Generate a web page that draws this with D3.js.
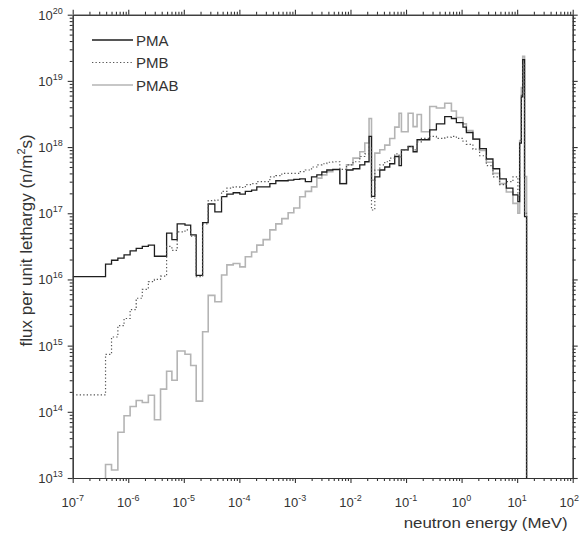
<!DOCTYPE html>
<html>
<head>
<meta charset="utf-8">
<script src="https://cdn.jsdelivr.net/npm/d3@7"></script>
<style>
  body { margin: 0; background: #fff; }
  svg text { font-family: "Liberation Sans", Arial, sans-serif; fill: #333; }
</style>
</head>
<body>
<div id="chart"></div>
<script>
// group boundaries (MeV), one more than the number of groups
var energyEdges = [1e-7, 3.9e-7, 5.0e-7, 6.5e-7, 8.4e-7, 1.08e-6, 1.39e-6, 1.79e-6, 2.3e-6, 2.96e-6,
    3.81e-6, 4.9e-6, 6.1e-6, 7.6e-6, 1.05e-5, 1.33e-5, 1.67e-5, 2.18e-5, 2.75e-5, 3.62e-5,
    4.78e-5, 5.96e-5, 7.74e-5, 1.02e-4, 1.28e-4, 1.66e-4, 2.06e-4, 2.68e-4, 3.54e-4, 4.53e-4,
    5.81e-4, 7.55e-4, 9.55e-4, 1.22e-3, 1.54e-3, 1.99e-3, 2.48e-3, 3.05e-3, 3.75e-3, 4.81e-3,
    6.43e-3, 8.48e-3, 1.11e-2, 1.47e-2, 1.81e-2, 2.16e-2, 2.39e-2, 2.74e-2, 3.37e-2, 4.14e-2,
    5.09e-2, 6.26e-2, 7.48e-2, 8.26e-2, 0.109, 0.134, 0.158, 0.189, 0.267, 0.352,
    0.497, 0.656, 0.806, 1.06, 1.22, 1.60, 2.11, 2.79, 3.67, 4.84,
    6.39, 8.40, 10.3, 11.1, 11.9, 12.6, 13.6, 14.8, 100];

// flux per unit lethargy in each group
var pma = [1.1e16, 1.7e16, 1.95e16, 2.1e16, 2.35e16, 2.7e16, 2.95e16, 3.16e16, 3.3e16, 2.24e16,
    2.24e16, 5.0e16, 4.0e16, 6.9e16, 6.6e16, 4.7e16, 1.15e16, 7.2e16, 1.38e17, 1.05e17,
    1.78e17, 1.95e17, 2.04e17, 1.95e17, 2.14e17, 2.24e17, 2.5e17, 2.5e17, 2.8e17, 3.1e17,
    3.1e17, 3.16e17, 3.24e17, 3.3e17, 3.0e17, 3.55e17, 3.8e17, 4.2e17, 4.5e17, 4.6e17,
    2.8e17, 4.5e17, 4.7e17, 5.4e17, 6.0e17, 1.45e18, 1.8e17, 3.55e17, 4.5e17, 5.0e17,
    5.6e17, 7.2e17, 5.25e17, 9.1e17, 1.02e18, 8.5e17, 1.29e18, 1.29e18, 1.82e18, 2.24e18,
    2.88e18, 2.7e18, 2.34e18, 2.0e18, 1.66e18, 1.32e18, 9.5e17, 6.6e17, 4.7e17, 3.3e17,
    2.4e17, 1.9e17, 1.5e17, 1.15e18, 5.75e18, 2.1e19, 8.9e16, 1e10];

var pmb = [1.8e14, 7.4e14, 1.35e15, 2.0e15, 2.57e15, 3.5e15, 5.2e15, 7.1e15, 9.3e15, 1.0e16,
    1.12e16, 3.16e16, 2.75e16, 5.25e16, 5.6e16, 4.5e16, 1.1e16, 6.9e16, 1.55e17, 1.58e17,
    2.14e17, 2.4e17, 2.5e17, 2.45e17, 2.7e17, 2.8e17, 3.0e17, 3.0e17, 3.55e17, 3.7e17,
    4.0e17, 4.0e17, 4.0e17, 4.25e17, 4.5e17, 5.0e17, 5.4e17, 5.6e17, 5.9e17, 6.0e17,
    4.6e17, 5.4e17, 6.0e17, 7.2e17, 7.9e17, 1.0e18, 1.12e17, 4.5e17, 5.4e17, 6.0e17,
    6.8e17, 7.9e17, 7.1e17, 9.1e17, 1.02e18, 9.1e17, 1.2e18, 1.35e18, 1.45e18, 1.35e18,
    1.41e18, 1.45e18, 1.35e18, 1.23e18, 1.1e18, 9.3e17, 7.4e17, 5.25e17, 3.55e17, 2.7e17,
    3.0e17, 3.55e17, 1.78e17, 1.26e18, 6.3e18, 1.8e19, 1.0e17, 1e10];

var pmab = [1e10, 1.6e13, 1.32e13, 4.9e13, 8.7e13, 1.2e14, 1.48e14, 1.38e14, 1.78e14, 7.6e13,
    2.2e14, 4.1e14, 3.0e14, 8.3e14, 7.4e14, 5.0e14, 1.45e14, 1.62e15, 5.75e15, 4.6e15,
    1.17e16, 1.66e16, 1.74e16, 1.55e16, 2.2e16, 2.6e16, 3.3e16, 4.0e16, 5.6e16, 6.9e16,
    8.3e16, 1.02e17, 1.2e17, 1.78e17, 2.14e17, 2.5e17, 3.4e17, 3.8e17, 4.25e17, 4.5e17,
    2.8e17, 5.4e17, 6.8e17, 8.5e17, 1.15e18, 2.7e18, 3.16e17, 8.1e17, 9.1e17, 1.07e18,
    1.35e18, 2.0e18, 3.24e18, 1.7e18, 3.24e18, 2.04e18, 3.1e18, 1.7e18, 4.1e18, 3.9e18,
    4.6e18, 3.5e18, 2.8e18, 2.24e18, 1.78e18, 1.32e18, 8.9e17, 5.9e17, 4.0e17, 2.8e17,
    2.1e17, 1.41e17, 1.0e17, 1.26e18, 7.9e18, 2.35e19, 3.6e17, 1e10];

var seriesNames = ['PMA', 'PMB', 'PMAB'];

var xDecades = [-7, -6, -5, -4, -3, -2, -1, 0, 1, 2];
var yDecades = [13, 14, 15, 16, 17, 18, 19, 20];

var W = 580, H = 536;
var plot = { left: 72.7, right: 572.7, top: 14.7, bottom: 478 };

var svg = d3.select('#chart').append('svg')
    .attr('width', W).attr('height', H);

var x = d3.scaleLog().domain([1e-7, 1e2]).range([plot.left, plot.right]);
var y = d3.scaleLog().domain([1e13, 1e20]).range([plot.bottom, plot.top]);

var styles = {
    PMA:  { stroke: '#1e1e1e', width: 1.3, dash: null },
    PMB:  { stroke: '#555', width: 1.2, dash: '1.3,2.2' },
    PMAB: { stroke: '#b4b4b4', width: 1.6, dash: null }
};
var values = { PMA: pma, PMB: pmb, PMAB: pmab };

svg.append('clipPath').attr('id', 'clip')
  .append('rect')
    .attr('x', plot.left).attr('y', plot.top)
    .attr('width', plot.right - plot.left).attr('height', plot.bottom - plot.top);

function stepPoints(vals) {
    var pts = vals.map(function(v, i) { return [energyEdges[i], v]; });
    pts.push([energyEdges[energyEdges.length - 1], vals[vals.length - 1]]);
    return pts;
}

var line = d3.line()
    .x(function(d) { return x(d[0]); })
    .y(function(d) { return Math.min(y(d[1]), plot.bottom + 20); })
    .curve(d3.curveStepAfter);

var gLines = svg.append('g').attr('clip-path', 'url(#clip)');
['PMAB', 'PMA', 'PMB'].forEach(function(name) {
    var s = styles[name];
    gLines.append('path')
        .attr('d', line(stepPoints(values[name])))
        .attr('fill', 'none')
        .attr('stroke', s.stroke)
        .attr('stroke-width', s.width)
        .attr('stroke-dasharray', s.dash);
});

// axes: major decade ticks + minor ticks, all outward
var xMajor = xDecades.map(function(p) { return Math.pow(10, p); });
var yMajor = yDecades.map(function(p) { return Math.pow(10, p); });
function isMajor(v) { return Math.abs(Math.log10(v) - Math.round(Math.log10(v))) < 1e-9; }
var xMinor = x.ticks().filter(function(v) { return !isMajor(v); });
var yMinor = y.ticks().filter(function(v) { return !isMajor(v); });

function drawAxis(axisFn, scale, major, minor, tx, ty) {
    var g = svg.append('g').attr('transform', 'translate(' + tx + ',' + ty + ')');
    g.append('g').call(axisFn(scale).tickValues(minor).tickSize(3).tickSizeOuter(0).tickFormat(''));
    g.append('g').call(axisFn(scale).tickValues(major).tickSize(5).tickSizeOuter(0).tickFormat(''));
    g.selectAll('path, line').attr('stroke', '#333').attr('stroke-width', 1.1);
    return g;
}

drawAxis(d3.axisBottom, x, xMajor, xMinor, 0, plot.bottom);
drawAxis(d3.axisTop, x, xMajor, xMinor, 0, plot.top);
drawAxis(d3.axisLeft, y, yMajor, yMinor, plot.left, 0);
drawAxis(d3.axisRight, y, yMajor, yMinor, plot.right, 0);

// tick labels as 10 with superscript exponent
xDecades.forEach(function(p, i) {
    var last = i === xDecades.length - 1;
    var t = svg.append('text')
        .attr('x', last ? W - 1 : x(Math.pow(10, p)))
        .attr('y', plot.bottom + 29)
        .attr('text-anchor', last ? 'end' : 'middle')
        .style('font-size', '13px');
    t.append('tspan').text('10');
    t.append('tspan').attr('dy', -6).style('font-size', '9px').text(p);
});

yDecades.forEach(function(p) {
    var t = svg.append('text')
        .attr('x', plot.left - 10)
        .attr('y', y(Math.pow(10, p)) + 5)
        .attr('text-anchor', 'end')
        .style('font-size', '13px');
    t.append('tspan').text('10');
    t.append('tspan').attr('dy', -6).style('font-size', '9px').text(p);
});

// axis titles
svg.append('text')
    .attr('x', plot.right - 5)
    .attr('y', 528)
    .attr('text-anchor', 'end')
    .attr('textLength', 164)
    .attr('lengthAdjust', 'spacingAndGlyphs')
    .style('font-size', '15px')
    .text('neutron energy (MeV)');

var yTitle = svg.append('text')
    .attr('transform', 'translate(32,' + ((plot.top + plot.bottom) / 2 - 6) + ') rotate(-90)')
    .attr('text-anchor', 'middle')
    .style('font-size', '17px');
yTitle.append('tspan').text('flux per unit lethargy (n/m');
yTitle.append('tspan').attr('dy', -7).style('font-size', '11px').text('2');
yTitle.append('tspan').attr('dy', 7).text('s)');

// legend
var legend = svg.append('g');
seriesNames.forEach(function(name, i) {
    var s = styles[name];
    var ly = 40 + i * 22.5;
    legend.append('line')
        .attr('x1', 92).attr('x2', 133)
        .attr('y1', ly).attr('y2', ly)
        .attr('stroke', s.stroke)
        .attr('stroke-width', s.width)
        .attr('stroke-dasharray', s.dash);
    legend.append('text')
        .attr('x', 136).attr('y', ly + 5.5)
        .style('font-size', '15px')
        .text(name);
});
</script>
</body>
</html>
